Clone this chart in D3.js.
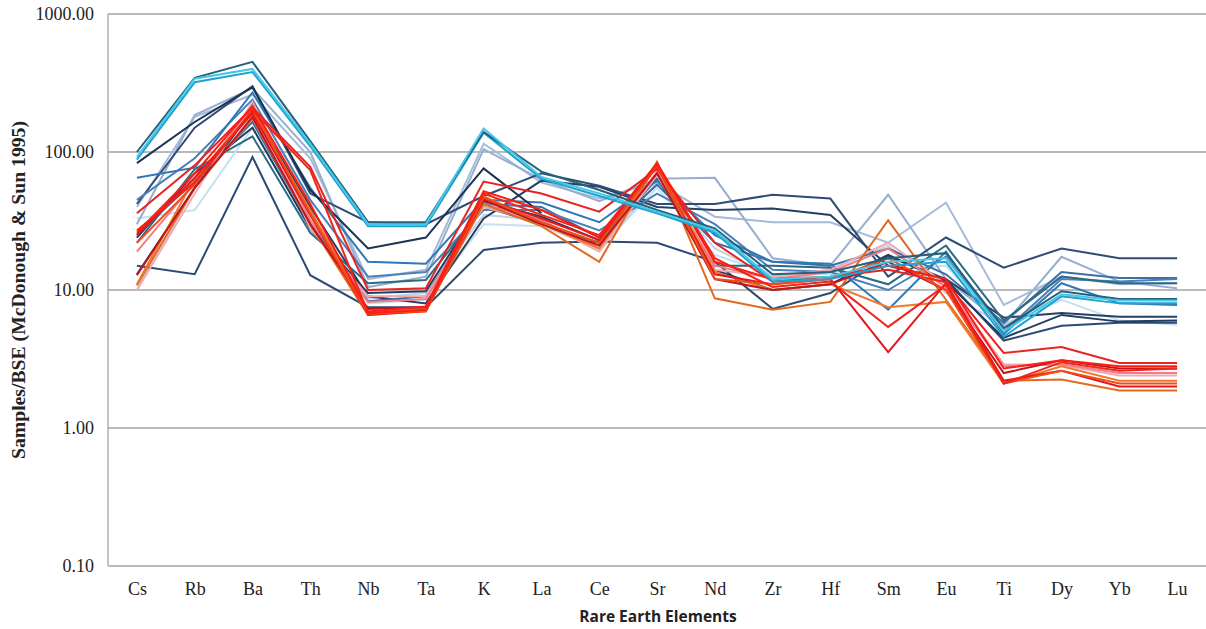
<!DOCTYPE html>
<html>
<head>
<meta charset="utf-8">
<script src="https://cdn.jsdelivr.net/npm/d3@7"></script>
<style>
  html, body { margin: 0; padding: 0; background: #fff; }
  svg { display: block; }
</style>
</head>
<body>
<svg id="chart" width="1206" height="629"></svg>
<script>
// Primitive-mantle normalised trace element patterns
const elements = ["Cs","Rb","Ba","Th","Nb","Ta","K","La","Ce","Sr","Nd","Zr","Hf","Sm","Eu","Ti","Dy","Yb","Lu"];
const yTicks = [0.1, 1, 10, 100, 1000];

// Blue suite
const cyanA    = [92,340,400,115,30,30,148,66,50,37,27,12,12.5,16,17,5.0,9.3,8.4,8.4];
const cyanB    = [88,320,380,110,29,29,138,64,48,36,26,11.5,12,15,16,4.6,9.0,8.0,8.0];
const tealDark = [100,345,450,120,31,31,140,72,53,38,28,13,13.5,17,18.5,5.3,9.8,8.6,8.6];
const blueMid  = [65,77,270,55,16,15.5,45,43,31,62,25,16,15.5,7.2,19,4.8,11.2,8.0,7.8];
const navy1    = [83,165,295,53,20,24,76,36,null,null,null,null,null,null,null,null,null,null,null];
const navy2    = [42,150,300,50,31,30,48,70,57,42,42,49,46,12.5,24,14.5,20,17,17];
const navy3    = [13,55,200,40,9,8,33,62,56,40,38,39,35,15,12,6.3,6.8,6.4,6.4];
const steelA   = [30,185,290,100,10.5,12.5,105,63,44,64,65,17,15,49,12,5.6,17.4,11.5,10.3];
const steelB   = [40,180,260,90,12,14,115,60,46,60,34,31,31,22,43,7.8,12.5,11,11.2];
const slate    = [15,13,92,12.8,7.5,7.5,19.5,22,22.5,22,16,7.3,9.5,17.5,12,4.3,5.5,5.8,5.8];
const tealMid  = [22,75,130,26,11.2,11.8,40,30,22,64,15,15,14.5,11,21,6.0,12.5,11.2,11.2];
const blueB    = [25,62,165,30,8.3,9,42,40,24,58,22,16,15,20,13,5.8,13.5,12.2,12.2];
const paleCyan = [33,38,150,28,8,8.5,30,29,20,55,18,13,13,14,15,5.5,8.5,6.0,5.6];
const paleBlue = [10,55,175,35,8.7,9.5,35,32,19,60,20,12.5,14,21,9.5,5.6,9.0,8.5,8.6];
const blueC    = [45,90,240,45,12.5,13.5,38,38,27,50,30,14,13.5,10,17.5,5.0,12,11.5,12];
const navy4    = [24,70,150,28,9.5,9.8,44,34,23,70,14,10,11,18,11.5,4.5,6.6,5.9,6.0];

// Red suite
const red1     = [36,80,210,78,10,10.3,61,50,37,75,22,11.5,12.5,14,11.4,3.5,3.86,2.96,2.96];
const red2     = [27,60,200,74,6.8,7.2,50,35,25,83,17,10.5,11.5,5.4,10.9,2.1,3.0,2.6,2.7];
const red3     = [25,65,190,35,6.6,7.0,46,33,23,78,13,11,12,3.55,11.2,2.2,2.6,2.0,2.0];
const redDark  = [12.8,55,180,30,7.3,7.5,45,30,21,70,12,10,11,16,10,2.5,3.1,2.7,2.7];
const pink     = [19,60,220,32,8.2,8.6,42,32,20,72,15,12,13.5,20,10.5,2.8,2.9,2.5,2.5];
const pinkPale = [10,50,230,28,9,9,40,31,19,68,14,12.5,14,22,11,2.9,2.85,2.4,2.4];
const orangeA  = [10.8,55,175,30,6.6,7.1,42,29,16,85,8.7,7.2,8.2,32,8.5,2.2,2.25,1.87,1.87];
const orangeB  = [11,65,195,38,6.9,7.3,48,30,20,80,13.5,10,11,7.5,8.2,2.1,2.8,2.2,2.2];
const red4     = [26,70,215,42,7.0,7.6,52,38,24,82,16,12,12.5,15,12,2.7,3.1,2.8,2.8];
const redOrange= [22,58,205,36,6.7,7.0,47,31,22,80,12,11,12,17,10,2.1,2.6,2.1,2.1];

const series = [
  { values: paleCyan,  color: "#c3e2ee" },
  { values: paleBlue,  color: "#c5d2e6" },
  { values: steelB,    color: "#a6bbd8" },
  { values: steelA,    color: "#97aecf" },
  { values: slate,     color: "#2c4b73" },
  { values: navy3,     color: "#263f62" },
  { values: navy2,     color: "#2f4c76" },
  { values: navy4,     color: "#1f3d5f" },
  { values: blueB,     color: "#3a6fa8" },
  { values: blueC,     color: "#4a80b9" },
  { values: tealMid,   color: "#2b6a83" },
  { values: blueMid,   color: "#2f78b5" },
  { values: navy1,     color: "#1b3352" },
  { values: pinkPale,  color: "#f3a9b1" },
  { values: pink,      color: "#ee7d88" },
  { values: orangeA,   color: "#e26a20" },
  { values: orangeB,   color: "#ee7b2c" },
  { values: redDark,   color: "#c1161d" },
  { values: red3,      color: "#e3171e" },
  { values: red1,      color: "#e82320" },
  { values: redOrange, color: "#f24b1b" },
  { values: red2,      color: "#f1241a" },
  { values: red4,      color: "#ff1b10" },
  { values: cyanB,     color: "#1fa3cf" },
  { values: tealDark,  color: "#25617b" },
  { values: cyanA,     color: "#45c8e9" }
];

const svg = d3.select("#chart");
const margin = { left: 108, right: 0, top: 14, bottom: 63 };
const W = 1206, H = 629;

const x = d3.scalePoint()
  .domain(elements)
  .range([margin.left, W - margin.right])
  .padding(0.5);

const y = d3.scaleLog()
  .domain([0.1, 1000])
  .range([H - margin.bottom, margin.top]);

// Horizontal gridlines at each decade
svg.append("g")
  .selectAll("line")
  .data(yTicks)
  .join("line")
  .attr("x1", margin.left)
  .attr("x2", W - margin.right)
  .attr("y1", d => y(d))
  .attr("y2", d => y(d))
  .attr("stroke", "#a3a3a3")
  .attr("stroke-width", 1.3);

// Left axis line
svg.append("line")
  .attr("x1", margin.left).attr("x2", margin.left)
  .attr("y1", y(1000)).attr("y2", y(0.1))
  .attr("stroke", "#a3a3a3")
  .attr("stroke-width", 1.3);

// Y tick labels
const yAxis = d3.axisLeft(y)
  .tickValues(yTicks)
  .tickFormat(d3.format(".2f"))
  .tickSize(0)
  .tickPadding(14);
const gy = svg.append("g")
  .attr("transform", `translate(${margin.left},0)`)
  .call(yAxis);
gy.select(".domain").remove();
gy.selectAll("text")
  .attr("font-family", "'Liberation Serif', 'Times New Roman', serif")
  .attr("font-size", 18)
  .attr("fill", "#222");

// X category labels
const xAxis = d3.axisBottom(x).tickSize(0).tickPadding(16);
const gx = svg.append("g")
  .attr("transform", `translate(0,${y(0.1)})`)
  .call(xAxis);
gx.select(".domain").remove();
gx.selectAll("text")
  .attr("font-family", "'Liberation Serif', 'Times New Roman', serif")
  .attr("font-size", 18)
  .attr("fill", "#222");

// Sample patterns
const line = d3.line()
  .defined(d => d.v != null)
  .x(d => x(d.el))
  .y(d => y(d.v));

svg.append("g")
  .attr("fill", "none")
  .attr("stroke-linejoin", "miter")
  .selectAll("path")
  .data(series)
  .join("path")
  .attr("d", s => line(elements.map((el, i) => ({ el, v: s.values[i] }))))
  .attr("stroke", s => s.color)
  .attr("stroke-width", 2);

// Axis titles
svg.append("text")
  .attr("x", 658)
  .attr("y", 622)
  .attr("text-anchor", "middle")
  .attr("font-family", "'Open Sans', 'Liberation Sans', sans-serif")
  .attr("font-weight", "bold")
  .attr("font-size", 15.5)
  .attr("fill", "#222")
  .text("Rare Earth Elements");

svg.append("text")
  .attr("transform", `translate(25,${y(10)}) rotate(-90)`)
  .attr("text-anchor", "middle")
  .attr("font-family", "'Liberation Serif', 'Times New Roman', serif")
  .attr("font-weight", "bold")
  .attr("font-size", 18)
  .attr("textLength", 338)
  .attr("lengthAdjust", "spacingAndGlyphs")
  .attr("fill", "#222")
  .text("Samples/BSE (McDonough & Sun 1995)");
</script>
</body>
</html>
